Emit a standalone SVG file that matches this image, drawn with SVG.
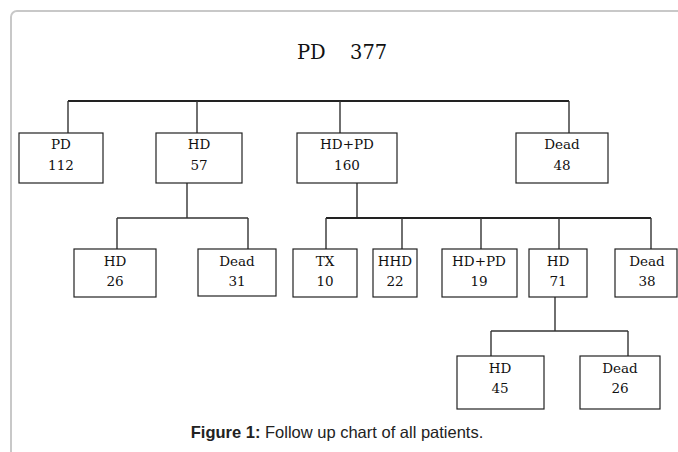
<svg xmlns="http://www.w3.org/2000/svg" width="678" height="452" viewBox="0 0 678 452">
  <style>
    .frame { fill: #ffffff; stroke: #c8c8c8; stroke-width: 2; }
    .box { fill: #ffffff; stroke: #222222; stroke-width: 1.2; }
    .lbl { font-family: "DejaVu Serif", "Liberation Serif", serif; font-size: 13.5px; fill: #111111; text-anchor: middle; }
    .title { font-family: "DejaVu Serif", "Liberation Serif", serif; font-size: 19.5px; fill: #111111; }
    .wire { stroke: #333333; stroke-width: 1.4; fill: none; }
    .trunk { stroke: #222222; stroke-width: 2.2; fill: none; }
    .cap { font-family: "Liberation Sans", Arial, sans-serif; font-size: 16.5px; fill: #222222; text-anchor: middle; }
  </style>

  <rect width="678" height="452" fill="#ffffff"/>
  <!-- figure panel, open on the right and bottom -->
  <rect class="frame" x="11" y="11" width="700" height="470" rx="6" ry="6"/>

  <text class="title" x="297" y="59">PD<tspan x="350">377</tspan></text>

  <!-- connectors -->
  <g id="connectors">
    <line class="trunk" x1="68" y1="101" x2="569" y2="101"/>
    <line class="wire" x1="68" y1="101" x2="68" y2="133"/>
    <line class="wire" x1="197" y1="101" x2="197" y2="133"/>
    <line class="wire" x1="340" y1="101" x2="340" y2="133"/>
    <line class="wire" x1="569" y1="101" x2="569" y2="133"/>

    <line class="wire" x1="187" y1="183" x2="187" y2="218"/>
    <line class="wire" x1="117" y1="218" x2="248" y2="218"/>
    <line class="wire" x1="117" y1="218" x2="117" y2="249"/>
    <line class="wire" x1="248" y1="218" x2="248" y2="249"/>

    <line class="wire" x1="357" y1="183" x2="357" y2="218"/>
    <line class="trunk" x1="326" y1="218" x2="651" y2="218" style="stroke-width:1.8"/>
    <line class="wire" x1="326" y1="218" x2="326" y2="249"/>
    <line class="wire" x1="402" y1="218" x2="402" y2="249"/>
    <line class="wire" x1="481" y1="218" x2="481" y2="249"/>
    <line class="wire" x1="559" y1="218" x2="559" y2="249"/>
    <line class="wire" x1="651" y1="218" x2="651" y2="249"/>

    <line class="wire" x1="555" y1="297" x2="555" y2="331"/>
    <line class="wire" x1="491" y1="331" x2="628" y2="331"/>
    <line class="wire" x1="491" y1="331" x2="491" y2="356"/>
    <line class="wire" x1="628" y1="331" x2="628" y2="356"/>
  </g>

  <!-- first level -->
  <g id="pd112"><rect class="box" x="19" y="133" width="84" height="50"/><text class="lbl" x="61" y="149">PD</text><text class="lbl" x="61" y="170">112</text></g>
  <g id="hd57"><rect class="box" x="156" y="133" width="86" height="50"/><text class="lbl" x="199" y="149">HD</text><text class="lbl" x="199" y="170">57</text></g>
  <g id="hdpd160"><rect class="box" x="297" y="133" width="100" height="50"/><text class="lbl" x="347" y="149">HD+PD</text><text class="lbl" x="347" y="170">160</text></g>
  <g id="dead48"><rect class="box" x="516" y="133" width="92" height="50"/><text class="lbl" x="562" y="149">Dead</text><text class="lbl" x="562" y="170">48</text></g>

  <!-- second level -->
  <g id="hd26"><rect class="box" x="74" y="249" width="82" height="48"/><text class="lbl" x="115" y="266">HD</text><text class="lbl" x="115" y="286">26</text></g>
  <g id="dead31"><rect class="box" x="198" y="249" width="78" height="47"/><text class="lbl" x="237" y="266">Dead</text><text class="lbl" x="237" y="286">31</text></g>
  <g id="tx10"><rect class="box" x="293" y="249" width="64" height="48"/><text class="lbl" x="325" y="266">TX</text><text class="lbl" x="325" y="286">10</text></g>
  <g id="hhd22"><rect class="box" x="373" y="249" width="44" height="48"/><text class="lbl" x="395" y="266">HHD</text><text class="lbl" x="395" y="286">22</text></g>
  <g id="hdpd19"><rect class="box" x="442" y="249" width="75" height="48"/><text class="lbl" x="479" y="266">HD+PD</text><text class="lbl" x="479" y="286">19</text></g>
  <g id="hd71"><rect class="box" x="529" y="249" width="58" height="48"/><text class="lbl" x="558" y="266">HD</text><text class="lbl" x="558" y="286">71</text></g>
  <g id="dead38"><rect class="box" x="615" y="249" width="62" height="48"/><text class="lbl" x="647" y="266">Dead</text><text class="lbl" x="647" y="286">38</text></g>

  <!-- third level -->
  <g id="hd45"><rect class="box" x="457" y="356" width="87" height="53"/><text class="lbl" x="500" y="373">HD</text><text class="lbl" x="500" y="393">45</text></g>
  <g id="dead26"><rect class="box" x="580" y="356" width="80" height="53"/><text class="lbl" x="620" y="373">Dead</text><text class="lbl" x="620" y="393">26</text></g>

  <text class="cap" x="337" y="438"><tspan font-weight="bold">Figure 1:</tspan> Follow up chart of all patients.</text>
</svg>
